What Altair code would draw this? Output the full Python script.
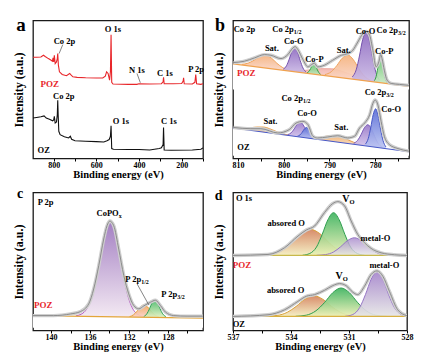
import altair as alt
import pandas as pd

FONT = "Liberation Serif"
RED = "#E8262A"

# ---------------- (a) survey spectra ----------------
a_oz_E = [897, 880, 860, 845, 835, 820, 805, 800, 797, 793, 787, 783, 781, 779, 776, 770, 750, 730, 722, 716,
          700, 650, 600, 565, 550, 540, 534, 531, 528, 520, 450, 400, 350, 305, 295, 287, 285, 282, 250, 150, 110, 100]
a_oz_I = [29.3, 29.7, 30.2, 30.9, 29.3, 28.5, 27.3, 28.0, 30.5, 25.7, 26.4, 31.7, 42.2, 31.7, 19.7, 17.3, 15.8, 14.9, 16.1, 13.9,
          12.9, 12.5, 12.2, 12.0, 12.9, 13.7, 16.1, 23.7, 7.2, 6.7, 6.5, 6.5, 6.2, 7.2, 7.7, 10.1, 22.5, 6.2, 6.0, 6.2, 6.7, 7.7]
a_poz_E = [897, 880, 860, 848, 840, 825, 812, 806, 803, 800, 797, 793, 787, 783, 781, 778, 773, 760, 740, 725,
           718, 710, 690, 650, 600, 570, 558, 552, 545, 538, 534, 531, 528, 522, 450, 410, 400, 350, 295, 287,
           285, 282, 240, 200, 193, 191, 188, 150, 138, 134, 130, 110, 100]
a_poz_I = [73.4, 73.4, 73.6, 74.8, 73.9, 72.4, 71.2, 70.5, 72.9, 70.0, 74.8, 68.8, 70.0, 72.4, 76.0, 67.6, 62.8, 60.9, 60.0, 61.6,
           60.4, 59.2, 58.8, 58.5, 58.3, 58.3, 59.7, 62.8, 61.6, 56.8, 62.8, 89.7, 55.2, 54.0, 53.7, 53.7, 54.2, 54.0, 54.2, 55.6,
           58.8, 54.2, 54.2, 54.4, 56.1, 58.5, 54.2, 54.0, 55.2, 60.9, 54.2, 53.7, 54.2]
a_lab_T = ["Co 2p", "O 1s", "N 1s", "C 1s", "P 2p", "Co 2p", "O 1s", "C 1s", "OZ"]
a_lab_E = [749.6, 522.8, 409.4, 278.7, 132.0, 752.8, 485.0, 259.8, 847.0]
a_lab_I = [84.9, 93.5, 64.0, 61.6, 64.7, 45.6, 26.9, 26.9, 5.8]
a_red_T = ["POZ"]
a_red_E = [819.0]
a_red_I = [54.0]
a_lead_E1 = [757.5, 409.4]
a_lead_I1 = [82.5, 61.6]
a_lead_E2 = [774.8, 393.7]
a_lead_I2 = [76.0, 54.9]

# ---------------- (b) Co 2p ----------------
b_poz_env_E = [811.0, 808.6, 806.4, 804.2, 802.8, 800.6, 799.1, 798.0, 797.5, 796.9, 795.8, 794.7, 793.9, 793.3, 792.6,
               791.1, 789.3, 787.4, 786.0, 784.9, 783.8, 782.7, 782.0, 781.2, 780.5, 779.8, 779.2, 778.8, 778.5, 778.0,
               777.4, 776.5, 774.7, 772.6]
b_poz_env_I = [69.5, 70.5, 72.9, 75.3, 74.8, 72.4, 75.3, 80.1, 81.1, 78.9, 71.7, 66.4, 68.1, 69.1, 66.4,
               67.6, 71.2, 74.8, 76.0, 78.4, 84.4, 90.4, 92.1, 89.2, 78.4, 66.4, 70.0, 75.3, 72.4, 64.0,
               56.8, 54.4, 53.7, 53.0]
b_poz_base_E = [811.1, 772.6]
b_poz_base_I = [68.6, 52.2]
b_poz_pink_E = [799.5, 796.7, 794.3, 791.9, 789.5, 787.1, 784.7, 782.3, 779.5]
b_poz_pink_I = [63.9, 63.6, 64.2, 65.1, 65.0, 63.0, 60.1, 57.5, 55.4]
b_poz_sat1_E = [809.2, 807.8, 806.5, 805.3, 804.0, 802.7, 801.5, 800.2, 798.8]
b_poz_sat1_I = [68.2, 69.1, 71.2, 73.9, 74.8, 72.8, 69.0, 65.8, 63.8]
b_poz_sat2_E = [791.0, 789.6, 788.4, 787.2, 786.0, 784.8, 783.6, 782.4, 781.0]
b_poz_sat2_I = [60.8, 62.9, 67.3, 72.7, 75.0, 71.7, 65.2, 59.8, 56.6]
b_poz_coo1_E = [800.1, 799.4, 798.8, 798.2, 797.6, 797.0, 796.4, 795.8, 795.1]
b_poz_coo1_I = [64.7, 67.2, 72.0, 77.9, 80.6, 77.4, 71.0, 65.6, 62.6]
b_poz_coo2_E = [785.0, 784.16, 783.44, 782.72, 782.0, 781.28, 780.56, 779.84, 779.0]
b_poz_coo2_I = [59.1, 64.2, 74.3, 86.4, 92.0, 85.8, 73.0, 62.4, 56.6]
b_poz_cop1_E = [794.9, 794.5, 794.1, 793.8, 793.4, 793.0, 792.7, 792.3, 791.9]
b_poz_cop1_I = [62.1, 63.1, 65.3, 67.9, 69.0, 67.5, 64.7, 62.2, 60.8]
b_poz_cop2_E = [780.18, 779.79, 779.46, 779.13, 778.8, 778.47, 778.14, 777.81, 777.42]
b_poz_cop2_I = [56.4, 59.4, 65.2, 72.2, 75.5, 72.0, 64.7, 58.6, 55.2]

b_oz_env_E = [811.0, 807.2, 805.0, 801.3, 798.8, 797.3, 795.8, 794.7, 793.6, 792.6, 790.4, 788.2, 786.0, 784.5, 783.4,
              782.3, 781.2, 780.5, 780.0, 779.4, 778.7, 778.0, 776.9, 775.0, 772.6]
b_oz_env_I = [22.5, 21.6, 21.6, 18.5, 20.9, 25.7, 26.9, 24.5, 16.1, 14.9, 15.6, 16.5, 14.9, 16.1, 22.1,
              25.7, 31.7, 40.0, 42.4, 38.8, 26.9, 16.1, 10.1, 7.2, 5.3]
b_oz_base_E = [811.1, 772.6]
b_oz_base_I = [22.1, 4.9]
b_oz_sat1_E = [810.2, 808.6, 807.3, 805.9, 804.5, 803.1, 801.7, 800.4, 798.8]
b_oz_sat1_I = [21.9, 21.7, 22.2, 22.8, 22.8, 21.6, 19.7, 18.1, 16.8]
b_oz_sat2_E = [794.75, 793.0, 791.5, 790.0, 788.5, 787.0, 785.5, 784.0, 782.25]
b_oz_sat2_I = [15.0, 15.0, 15.6, 16.5, 16.6, 15.1, 12.9, 10.9, 9.5]
b_oz_coo1_E = [799.15, 798.38, 797.72, 797.06, 796.4, 795.74, 795.08, 794.42, 793.65]
b_oz_coo1_I = [17.3, 18.6, 21.4, 24.9, 26.4, 24.3, 20.3, 16.8, 14.8]
b_oz_blue1_E = [797.0, 796.44, 795.96, 795.48, 795.0, 794.52, 794.04, 793.56, 793.0]
b_oz_blue1_I = [16.2, 17.1, 19.0, 21.4, 22.5, 21.0, 18.2, 15.8, 14.4]
b_oz_coo2_E = [784.7, 783.85, 783.1, 782.35, 781.6, 780.85, 780.1, 779.35, 778.5]
b_oz_coo2_I = [11.0, 13.1, 17.2, 22.3, 24.5, 21.6, 15.9, 11.0, 8.3]
b_oz_blue2_E = [782.15, 781.52, 780.98, 780.44, 779.9, 779.36, 778.82, 778.28, 777.65]
b_oz_blue2_I = [10.4, 14.4, 22.2, 31.7, 36.0, 31.2, 21.3, 13.0, 8.4]

b_lab_T = ["Co 2p", "Co-O", "Sat.", "Co-P", "Sat.", "Co-O", "Co-P", "Co-O", "Sat.", "Sat.", "Co-O", "OZ"]
b_lab_E = [808.6, 797.8, 802.6, 793.3, 786.9, 782.1, 778.0, 794.9, 802.9, 787.4, 776.5, 808.8]
b_lab_I = [93.5, 84.9, 80.1, 71.9, 78.4, 92.1, 77.7, 32.9, 27.3, 22.5, 35.7, 8.2]
b_red_T = ["POZ"]
b_red_E = [808.2]
b_red_I = [61.6]
b_sub_main = ["Co 2p", "Co 2p", "Co 2p", "Co 2p"]
b_sub_T = ["1/2", "3/2", "1/2", "3/2"]
b_sub_E = [797.8, 775.0, 795.8, 777.6]
b_sub_I = [93.5, 92.8, 44.1, 48.0]

# ---------------- (c) P 2p ----------------
c_env_E = [141.85, 139.73, 138.0, 136.99, 136.13, 135.62, 135.10, 134.59, 134.25, 133.97, 133.56, 133.05, 132.53,
           132.02, 131.51, 130.99, 130.48, 129.79, 129.28, 128.77, 128.25, 127.40, 126.03, 124.4]
c_env_I = [10.8, 10.8, 12.0, 13.7, 19.3, 30.1, 47.0, 66.3, 75.9, 79.3, 75.9, 59.0, 39.8,
           26.5, 18.1, 15.7, 17.8, 20.5, 21.9, 18.1, 13.3, 10.8, 10.4, 10.4]
c_base_E = [141.85, 124.4]
c_base_I = [10.8, 9.0]
c_copox_E = [137.45, 136.6, 135.86, 135.22, 134.59, 133.95, 133.31, 132.68, 132.04, 131.3, 130.45]
c_copox_I = [10.6, 13.3, 23.9, 43.8, 67.9, 79.3, 67.8, 43.5, 23.5, 12.8, 9.9]
c_p12_E = [131.95, 131.53, 131.17, 130.81, 130.45, 130.09, 129.73, 129.37, 128.95]
c_p12_I = [10.0, 11.4, 14.0, 17.1, 18.6, 17.1, 14.0, 11.4, 10.0]
c_p32_E = [130.48, 130.16, 129.89, 129.62, 129.35, 129.08, 128.81, 128.54, 128.22]
c_p32_I = [10.1, 12.1, 15.8, 20.3, 22.4, 20.3, 15.8, 12.1, 10.1]
c_lab_T = ["P 2p"]
c_lab_E = [140.55]
c_lab_I = [92.8]
c_red_T = ["POZ"]
c_red_E = [140.8]
c_red_I = [18.6]
c_sub_main = ["CoPO", "P 2p", "P 2p"]
c_sub_T = ["x", "1/2", "3/2"]
c_sub_E = [133.05, 130.75, 127.05]
c_sub_I = [85.5, 37.3, 26.5]
c_lead_E1 = [131.16]
c_lead_I1 = [33.7]
c_lead_E2 = [129.97]
c_lead_I2 = [18.6]

# ---------------- (d) O 1s ----------------
d_poz_env_E = [537.0, 535.19, 534.33, 533.64, 533.21, 532.78, 532.27, 531.84, 531.58, 531.23, 530.89, 530.55,
               530.20, 529.86, 529.34, 528.65, 528.0]
d_poz_env_I = [54.4, 55.1, 60.0, 68.4, 72.8, 75.7, 85.4, 92.0, 93.4, 90.3, 79.4, 69.7,
               63.6, 59.5, 56.3, 54.9, 54.4]
d_poz_base_E = [537.0, 528.0]
d_poz_base_I = [54.4, 54.4]
d_poz_abs_E = [535.6, 535.03, 534.46, 533.97, 533.49, 533.0, 532.51, 532.03, 531.54, 530.97, 530.4]
d_poz_abs_I = [54.5, 55.2, 58.1, 63.6, 70.2, 73.3, 70.2, 63.6, 58.1, 55.2, 54.5]
d_poz_vo_E = [533.4, 533.03, 532.68, 532.39, 532.09, 531.8, 531.51, 531.21, 530.92, 530.57, 530.2]
d_poz_vo_I = [54.55, 55.8, 60.5, 69.5, 80.3, 85.4, 80.3, 69.5, 60.5, 55.8, 54.55]
d_poz_mo_E = [532.67, 532.22, 531.8, 531.44, 531.08, 530.72, 530.36, 530.0, 529.64, 529.22, 528.77]
d_poz_mo_I = [54.5, 55.0, 56.9, 60.6, 65.1, 67.2, 65.1, 60.6, 56.9, 55.0, 54.5]

d_oz_env_E = [537.0, 535.19, 534.33, 533.64, 533.21, 532.78, 532.27, 531.84, 531.49, 531.15, 530.80, 530.55,
              530.20, 529.86, 529.55, 529.25, 528.91, 528.48, 528.0]
d_oz_env_I = [10.2, 11.4, 15.0, 21.1, 24.8, 26.0, 29.1, 32.5, 34.0, 32.5, 27.7, 26.0,
              32.0, 40.5, 43.2, 39.3, 28.4, 15.0, 10.7]
d_oz_base_E = [537.0, 528.0]
d_oz_base_I = [10.2, 10.2]
d_oz_abs_E = [535.32, 534.72, 534.19, 533.73, 533.28, 532.82, 532.36, 531.91, 531.45, 530.92, 530.32]
d_oz_abs_I = [10.3, 10.9, 13.2, 17.5, 22.7, 25.2, 22.7, 17.5, 13.2, 10.9, 10.3]
d_oz_vo_E = [533.76, 533.21, 532.71, 532.27, 531.84, 531.41, 530.98, 530.55, 530.11, 529.61, 529.06]
d_oz_vo_I = [10.3, 11.1, 14.3, 20.2, 27.4, 30.8, 27.4, 20.2, 14.3, 11.1, 10.3]
d_oz_mo_E = [531.2, 530.8, 530.45, 530.15, 529.85, 529.55, 529.25, 528.95, 528.65, 528.3, 528.0]
d_oz_mo_I = [10.3, 11.6, 16.6, 26.0, 37.3, 42.7, 37.3, 26.0, 16.6, 11.6, 10.5]

d_lab_T = ["O 1s", "absored O", "metal-O", "absored O", "metal-O", "OZ"]
d_lab_E = [536.43, 534.25, 529.63, 534.28, 529.17, 536.7]
d_lab_I = [95.9, 77.7, 67.2, 29.1, 47.8, 4.9]
d_red_T = ["POZ"]
d_red_E = [536.54]
d_red_I = [47.8]
d_sub_main = ["V", "V"]
d_sub_T = ["O", "O"]
d_sub_E = [530.98, 531.32]
d_sub_I = [95.1, 39.3]


# ---------------- helpers ----------------
def xenc(lo, hi, ticks, labelled):
    cond = " || ".join("datum.value == %s" % v for v in labelled)
    return alt.X("E:Q",
                 scale=alt.Scale(domain=[lo, hi], reverse=True, nice=False, zero=False),
                 axis=alt.Axis(title="Binding energy (eV)", values=ticks,
                               labelExpr="(%s) ? datum.label : ''" % cond,
                               grid=False, domain=False, tickColor="black", tickSize=2.5, tickWidth=1,
                               labelFont=FONT, labelFontWeight="bold", labelFontSize=8, labelColor="black",
                               labelPadding=0, labelFlush=False,
                               titleFont=FONT, titleFontWeight="bold", titleFontSize=10.5,
                               titleColor="black", titlePadding=0))


Y = alt.Y("I:Q", scale=alt.Scale(domain=[0, 100], nice=False, zero=False),
          axis=alt.Axis(title="Intensity (a.u.)", labels=False, ticks=False, domain=False, grid=False,
                        titleFont=FONT, titleFontWeight="bold", titleFontSize=12, titleColor="black",
                        titlePadding=8))


def grad(c1, c2):
    return alt.LinearGradient(gradient="linear",
                              stops=[alt.GradientStop(color=c1, offset=0), alt.GradientStop(color=c2, offset=1)],
                              x1=1, x2=1, y1=0, y2=1)


def comp(X, E, I, floor, c1, c2, stroke, op=0.92):
    df = pd.DataFrame({"E": E, "I": I, "F": [floor] * len(E)})
    return alt.Chart(df).mark_area(interpolate="monotone", clip=True, color=grad(c1, c2), opacity=op,
                                   line=alt.OverlayMarkDef(stroke=stroke, strokeWidth=1, opacity=1)
                                   ).encode(x=X, y=Y, y2="F:Q")


def cover(X, E, I, low):
    df = pd.DataFrame({"E": E, "I": I, "F": [low] * len(E)})
    return alt.Chart(df).mark_area(color="white", clip=True).encode(x=X, y=Y, y2="F:Q")


def line(X, E, I, color, width, interp="linear"):
    df = pd.DataFrame({"E": E, "I": I})
    return alt.Chart(df).mark_line(color=color, strokeWidth=width, interpolate=interp, clip=True).encode(x=X, y=Y)


def envelope(X, E, I):
    return [line(X, E, I, "#cfcfcf", 3.4, "monotone"), line(X, E, I, "#8c8c8c", 1.0, "monotone")]


def texts(X, E, I, T, color="black", size=8.5, align="center", dy=0):
    df = pd.DataFrame({"E": E, "I": I, "t": T})
    return alt.Chart(df).mark_text(font=FONT, fontWeight="bold", fontSize=size, color=color, align=align,
                                   baseline="middle", dy=dy).encode(x=X, y=Y, text="t:N")


def subtexts(X, E, I, main, sub, size=8.5, subsize=6):
    return [texts(X, E, I, main, size=size, align="right"),
            texts(X, E, I, sub, size=subsize, align="left", dy=3)]


def leaders(X, E1, I1, E2, I2):
    df = pd.DataFrame({"E": E1, "I": I1, "E2": E2, "I2": I2})
    return alt.Chart(df).mark_rule(color="#666666", strokeWidth=0.8).encode(x=X, x2="E2:Q", y=Y, y2="I2:Q")


def letter(ch, px, py, size):
    return alt.Chart(pd.DataFrame({"t": [ch]})).mark_text(
        font=FONT, fontWeight="bold", fontSize=size, color="black", align="center", baseline="alphabetic"
    ).encode(x=alt.value(px), y=alt.value(py), text="t:N")


# ---------------- panel a ----------------
XA = xenc(100, 897, list(range(100, 901, 100)), [200, 400, 600, 800])
pa = alt.layer(
    line(XA, a_oz_E, a_oz_I, "#111111", 1.1),
    line(XA, a_poz_E, a_poz_I, RED, 1.1),
    leaders(XA, a_lead_E1, a_lead_I1, a_lead_E2, a_lead_I2),
    texts(XA, a_lab_E, a_lab_I, a_lab_T),
    texts(XA, a_red_E, a_red_I, a_red_T, color=RED, size=9),
    letter("a", -12, 10.7, 19),
).properties(width=170, height=138)

# ---------------- panel b ----------------
XB = xenc(772.6, 811.1, list(range(775, 811, 5)), [780, 790, 800, 810])
SAT = ("#F5B27C", "#FAD9CF", "#EFA35E")
PINK = ("#F2B3AC", "#FBE4E0", "#EDA7A0")
COO = ("#8C68BF", "#CDBCE6", "#7552AD")
COP = ("#5CBE66", "#CDEBC7", "#37A047")
OSAT = ("#F1B274", "#F6DCC0", "#E7A04E")
OCOO = ("#9878C8", "#D8CAEE", "#7A5AB8")
OBLU = ("#5A6DD6", "#BDC6F2", "#4657C6")
pb_layers = [
    comp(XB, b_poz_pink_E, b_poz_pink_I, 54.5, *PINK),
    comp(XB, b_poz_sat1_E, b_poz_sat1_I, 62.8, *SAT),
    comp(XB, b_poz_sat2_E, b_poz_sat2_I, 55.3, *SAT),
    comp(XB, b_poz_cop1_E, b_poz_cop1_I, 60.0, *COP),
    comp(XB, b_poz_coo1_E, b_poz_coo1_I, 61.4, *COO),
    comp(XB, b_poz_coo2_E, b_poz_coo2_I, 54.5, *COO),
    comp(XB, b_poz_cop2_E, b_poz_cop2_I, 53.8, *COP),
    cover(XB, b_poz_base_E, b_poz_base_I, 50.0),
    line(XB, b_poz_base_E, b_poz_base_I, "#F0A24E", 1.2),
    *envelope(XB, b_poz_env_E, b_poz_env_I),
    comp(XB, b_oz_sat1_E, b_oz_sat1_I, 16.2, *OSAT),
    comp(XB, b_oz_sat2_E, b_oz_sat2_I, 9.0, *OSAT),
    comp(XB, b_oz_coo1_E, b_oz_coo1_I, 14.0, *OCOO),
    comp(XB, b_oz_blue1_E, b_oz_blue1_I, 13.7, *OBLU),
    comp(XB, b_oz_coo2_E, b_oz_coo2_I, 7.3, *OCOO),
    comp(XB, b_oz_blue2_E, b_oz_blue2_I, 7.0, *OBLU),
    cover(XB, b_oz_base_E, b_oz_base_I, 2.0),
    line(XB, b_oz_base_E, b_oz_base_I, "#4657C6", 1.2),
    *envelope(XB, b_oz_env_E, b_oz_env_I),
    texts(XB, b_lab_E, b_lab_I, b_lab_T),
    texts(XB, b_red_E, b_red_I, b_red_T, color=RED, size=9),
    *subtexts(XB, b_sub_E, b_sub_I, b_sub_main, b_sub_T),
    letter("b", -13, 10.7, 18),
]
pb = alt.layer(*pb_layers).properties(width=176, height=138)

# ---------------- panel c ----------------
XC = xenc(124.4, 141.85, list(range(126, 141, 2)), [128, 132, 136, 140])
pc_layers = [
    comp(XC, c_copox_E, c_copox_I, 9.2, "#9B74BD", "#F3E8F2", "#B55BC2"),
    comp(XC, c_p12_E, c_p12_I, 9.2, "#F2A65A", "#F9D3CF", "#E9A13A"),
    comp(XC, c_p32_E, c_p32_I, 9.2, "#45B868", "#E6F2C2", "#2F9E55"),
    cover(XC, c_base_E, c_base_I, 2.0),
    line(XC, c_base_E, c_base_I, "#E3A53A", 1.2),
    *envelope(XC, c_env_E, c_env_I),
    leaders(XC, c_lead_E1, c_lead_I1, c_lead_E2, c_lead_I2),
    texts(XC, c_lab_E, c_lab_I, c_lab_T),
    texts(XC, c_red_E, c_red_I, c_red_T, color=RED, size=9),
    *subtexts(XC, c_sub_E, c_sub_I, c_sub_main, c_sub_T),
    letter("c", -12.8, 5.7, 14),
]
pc = alt.layer(*pc_layers).properties(width=170, height=138)

# ---------------- panel d ----------------
XD = xenc(528, 537, [528, 529.5, 531, 532.5, 534, 535.5, 537], [528, 531, 534, 537])
ABS = ("#D4825E", "#F4EEC0", "#D9A23A")
VO = ("#3DB35F", "#EEF0B5", "#2E9E4F")
MO = ("#A585CB", "#E6E6E6", "#9575C5")
pd_layers = [
    comp(XD, d_poz_abs_E, d_poz_abs_I, 54.4, *ABS),
    comp(XD, d_poz_vo_E, d_poz_vo_I, 54.4, *VO),
    comp(XD, d_poz_mo_E, d_poz_mo_I, 54.4, *MO, op=0.8),
    line(XD, d_poz_base_E, d_poz_base_I, "#C8B84A", 1.2),
    *envelope(XD, d_poz_env_E, d_poz_env_I),
    comp(XD, d_oz_abs_E, d_oz_abs_I, 10.2, *ABS),
    comp(XD, d_oz_vo_E, d_oz_vo_I, 10.2, *VO),
    comp(XD, d_oz_mo_E, d_oz_mo_I, 10.2, *MO),
    line(XD, d_oz_base_E, d_oz_base_I, "#D8B040", 1.2),
    *envelope(XD, d_oz_env_E, d_oz_env_I),
    texts(XD, d_lab_E, d_lab_I, d_lab_T),
    texts(XD, d_red_E, d_red_I, d_red_T, color=RED, size=9),
    *subtexts(XD, d_sub_E, d_sub_I, d_sub_main, d_sub_T, size=10, subsize=6.5),
    letter("d", -14.3, 7.7, 14),
]
pdd = alt.layer(*pd_layers).properties(width=174, height=138)

chart = alt.concat(pa, pb, pc, pdd, columns=2,
                   spacing=alt.RowColnumber(row=34, column=30), bounds="flush").properties(
    padding={"left": 11, "top": 15.5, "right": 5, "bottom": 5}, background="white"
).configure_view(stroke="#1a1a1a", strokeWidth=1.3)

chart.save("out.html", embed_options={"renderer": "svg", "actions": False})
